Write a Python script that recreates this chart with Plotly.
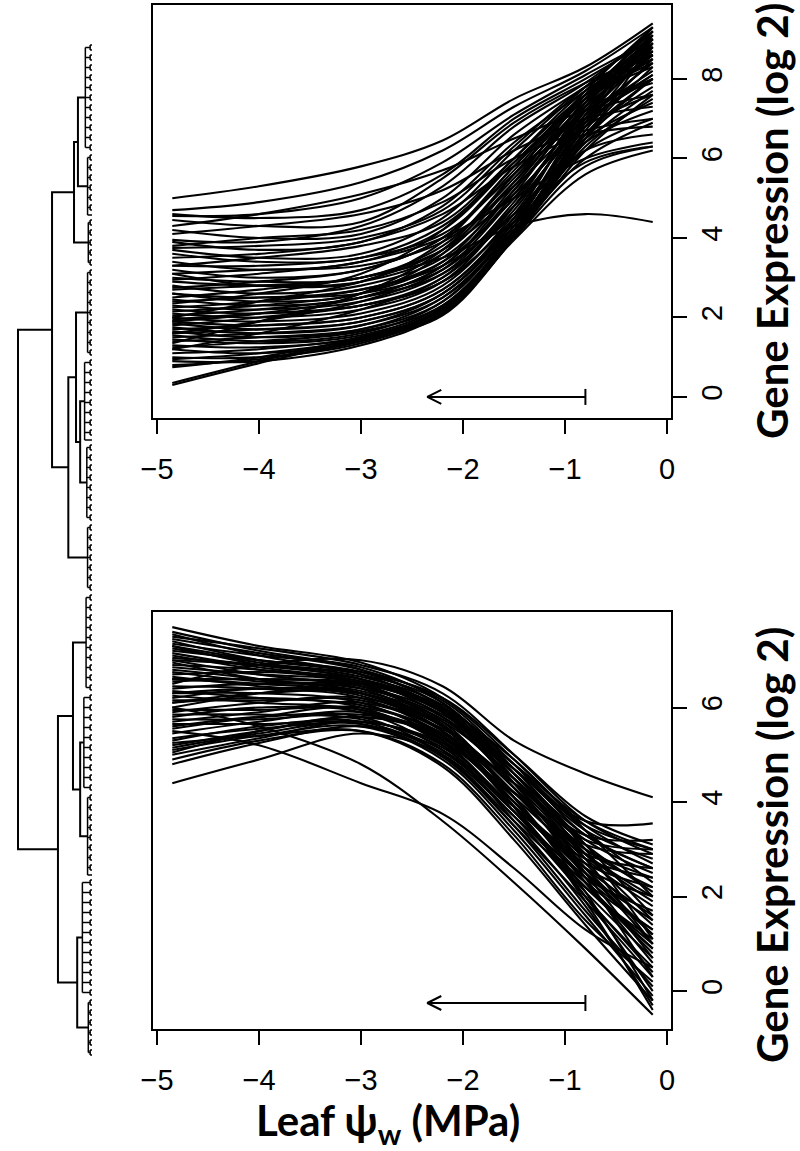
import plotly.graph_objects as go

# ---------------- data ----------------
knots = [-4.85, -4.0, -3.0, -2.2, -1.5, -0.8, -0.14]

up_genes = [
    [5.0, 5.3, 5.8, 6.45, 7.5, 8.3, 9.4],
    [4.7, 4.9, 5.4, 6.2, 7.3, 8.2, 9.3],
    [4.55, 4.6, 5.0, 5.9, 7.1, 8.1, 9.0],
    [4.45, 4.3, 4.4, 5.5, 6.9, 7.9, 8.6],
    [4.3, 4.6, 5.1, 5.7, 6.5, 7.2, 7.6],
    [4.2, 4.0, 4.1, 5.0, 6.6, 7.8, 8.8],
    [4.1, 4.3, 4.6, 5.2, 6.2, 7.0, 7.3],
    [3.9, 3.7, 3.9, 4.8, 6.4, 7.7, 8.9],
    [3.8, 4.0, 4.2, 4.9, 6.0, 6.7, 7.0],
    [3.7, 3.5, 3.6, 4.5, 6.2, 7.8, 9.2],
    [3.6, 3.4, 3.5, 4.3, 5.9, 7.5, 8.4],
    [3.5, 3.6, 3.9, 4.6, 5.8, 6.6, 6.8],
    [3.4, 3.2, 3.4, 4.2, 5.9, 7.6, 9.0],
    [3.3, 3.3, 3.5, 4.1, 5.6, 7.2, 8.0],
    [3.2, 3.0, 3.2, 4.0, 5.7, 7.7, 9.3],
    [3.1, 3.2, 3.3, 3.9, 5.3, 7.0, 8.2],
    [3.0, 2.9, 3.0, 3.8, 5.5, 7.4, 8.7],
    [2.95, 3.1, 3.4, 4.0, 5.0, 6.0, 6.4],
    [2.9, 2.8, 2.9, 3.6, 5.4, 7.6, 9.1],
    [2.8, 2.6, 2.8, 3.5, 5.2, 7.3, 8.5],
    [2.7, 2.8, 3.0, 3.7, 5.1, 6.8, 7.6],
    [2.6, 2.5, 2.7, 3.4, 5.0, 7.2, 8.8],
    [2.5, 2.7, 3.0, 3.5, 4.3, 4.6, 4.4],
    [2.45, 2.3, 2.5, 3.3, 5.1, 7.5, 9.2],
    [2.4, 2.5, 2.6, 3.2, 4.8, 6.9, 8.0],
    [2.3, 2.2, 2.4, 3.1, 4.9, 7.3, 9.0],
    [2.25, 2.4, 2.7, 3.3, 4.6, 6.2, 6.6],
    [2.2, 2.1, 2.3, 3.0, 4.7, 7.1, 8.6],
    [2.1, 2.0, 2.2, 2.9, 4.8, 7.4, 9.3],
    [2.05, 2.2, 2.5, 3.1, 4.6, 6.5, 7.4],
    [2.0, 1.9, 2.1, 2.8, 4.6, 7.2, 8.9],
    [1.95, 2.1, 2.3, 2.9, 4.5, 6.6, 7.8],
    [1.9, 1.8, 2.0, 2.7, 4.5, 7.3, 9.1],
    [1.85, 1.7, 1.9, 2.6, 4.4, 6.9, 8.4],
    [1.8, 2.0, 2.3, 2.9, 4.4, 5.9, 6.3],
    [1.75, 1.6, 1.8, 2.6, 4.4, 7.1, 9.0],
    [1.7, 1.8, 2.0, 2.7, 4.4, 6.8, 8.1],
    [1.65, 1.5, 1.7, 2.5, 4.3, 7.0, 8.7],
    [1.6, 1.7, 1.9, 2.6, 4.3, 6.4, 7.2],
    [1.55, 1.4, 1.6, 2.4, 4.3, 7.0, 9.2],
    [1.5, 1.6, 1.8, 2.5, 4.2, 6.6, 8.0],
    [1.45, 1.35, 1.55, 2.3, 4.2, 6.8, 8.8],
    [1.4, 1.5, 1.7, 2.4, 4.2, 6.2, 7.0],
    [1.3, 1.25, 1.5, 2.25, 4.15, 6.7, 8.5],
    [1.25, 1.4, 1.65, 2.3, 4.1, 6.4, 7.7],
    [1.2, 1.1, 1.4, 2.2, 4.15, 6.9, 9.1],
    [1.1, 1.2, 1.5, 2.2, 4.1, 6.0, 6.9],
    [1.0, 1.0, 1.35, 2.15, 4.1, 6.6, 8.3],
    [0.95, 1.1, 1.45, 2.2, 4.05, 6.3, 7.5],
    [0.9, 0.9, 1.3, 2.1, 4.0, 6.5, 8.9],
    [0.8, 0.95, 1.4, 2.1, 4.0, 5.8, 6.3],
    [0.75, 1.0, 1.5, 2.2, 4.1, 6.5, 8.0],
    [0.3, 0.85, 1.45, 2.05, 4.0, 6.2, 7.6],
    [0.35, 0.9, 1.5, 2.1, 3.95, 5.6, 6.2],
    [4.6, 4.5, 4.7, 5.6, 7.0, 8.0, 9.0],
    [3.95, 3.9, 4.3, 5.3, 6.8, 7.9, 9.2],
    [2.35, 2.6, 3.1, 4.2, 6.0, 7.7, 8.6],
    [1.35, 1.9, 2.6, 3.7, 5.6, 7.5, 8.8],
    [2.15, 2.3, 2.6, 3.4, 5.3, 7.4, 8.9],
    [1.9, 2.1, 2.5, 3.3, 5.2, 7.3, 8.6],
    [2.6, 2.4, 2.6, 3.6, 5.6, 7.6, 9.0],
    [3.1, 2.8, 2.9, 3.9, 5.8, 7.6, 8.7],
    [1.6, 1.9, 2.4, 3.2, 5.0, 7.0, 8.4],
    [2.75, 2.9, 3.2, 4.0, 5.8, 7.5, 8.3],
    [3.3, 3.5, 3.8, 4.4, 6.0, 7.6, 8.5],
    [1.2, 1.6, 2.2, 3.0, 4.8, 6.9, 8.1],
    [2.0, 2.4, 2.9, 3.7, 5.4, 7.2, 7.9],
    [3.75, 3.8, 4.0, 4.7, 6.3, 7.8, 8.6],
]

down_genes = [
    [7.7, 7.3, 6.95, 6.2, 4.9, 3.4, 2.0],
    [7.6, 7.2, 6.8, 6.0, 4.5, 2.8, 1.0],
    [7.5, 7.25, 6.9, 6.3, 5.0, 3.6, 2.9],
    [7.4, 7.0, 6.7, 5.9, 4.3, 2.4, 0.3],
    [7.35, 7.1, 6.85, 6.1, 4.7, 3.1, 1.6],
    [7.3, 6.9, 6.6, 5.8, 4.4, 2.9, 1.9],
    [7.2, 7.0, 6.75, 6.2, 5.0, 3.7, 3.1],
    [7.1, 6.8, 6.5, 5.7, 4.1, 2.1, -0.2],
    [7.05, 6.9, 6.6, 5.9, 4.6, 3.2, 2.5],
    [7.0, 6.7, 6.4, 5.6, 4.2, 2.6, 1.2],
    [6.9, 6.8, 6.55, 5.9, 4.8, 3.6, 3.0],
    [6.8, 6.6, 6.3, 5.5, 4.0, 2.3, 0.6],
    [6.7, 6.75, 6.6, 6.0, 4.9, 3.5, 2.7],
    [6.6, 6.5, 6.3, 5.6, 4.3, 2.7, 1.4],
    [6.5, 6.9, 7.0, 6.45, 5.3, 4.6, 4.1],
    [6.45, 6.4, 6.2, 5.4, 3.9, 2.0, 0.0],
    [6.4, 6.5, 6.4, 5.8, 4.6, 3.3, 2.6],
    [6.3, 6.3, 6.1, 5.3, 3.8, 2.2, 0.9],
    [6.2, 6.4, 6.3, 5.7, 4.5, 3.0, 2.2],
    [6.1, 6.2, 6.0, 5.2, 3.6, 1.8, -0.3],
    [6.0, 6.3, 6.5, 6.0, 4.7, 3.6, 3.55],
    [6.0, 5.6, 4.8, 3.6, 2.3, 0.9, -0.5],
    [5.9, 6.1, 6.2, 5.6, 4.3, 2.8, 1.8],
    [5.8, 6.0, 5.9, 5.1, 3.7, 2.0, 0.4],
    [5.7, 5.9, 6.1, 5.5, 4.2, 3.0, 2.4],
    [5.6, 5.8, 5.8, 5.0, 3.5, 1.7, 0.1],
    [5.5, 5.2, 4.4, 3.75, 2.6, 1.3, 0.5],
    [5.45, 5.7, 5.9, 5.3, 4.0, 2.5, 1.5],
    [5.3, 5.6, 5.7, 5.0, 3.6, 2.2, 1.0],
    [5.2, 5.5, 5.8, 5.4, 4.1, 2.9, 2.6],
    [5.1, 5.4, 5.6, 4.9, 3.4, 1.6, -0.1],
    [5.0, 5.35, 5.7, 5.2, 3.9, 2.6, 2.0],
    [4.9, 5.3, 5.5, 4.8, 3.3, 1.5, 0.2],
    [4.8, 5.25, 5.6, 5.1, 3.8, 2.4, 1.7],
    [4.4, 4.9, 5.45, 5.0, 3.7, 2.3, 1.3],
    [7.55, 7.1, 6.7, 5.95, 4.6, 3.0, 1.1],
    [7.25, 6.95, 6.65, 6.05, 4.8, 3.4, 2.3],
    [6.95, 6.6, 6.35, 5.75, 4.5, 3.1, 2.1],
    [6.75, 6.55, 6.45, 5.85, 4.7, 3.4, 2.8],
    [6.55, 6.6, 6.45, 5.65, 4.1, 2.3, 0.8],
    [6.35, 6.2, 6.05, 5.45, 4.2, 2.9, 2.0],
    [6.25, 6.1, 5.95, 5.35, 4.0, 2.6, 1.6],
    [6.15, 6.15, 6.15, 5.55, 4.4, 3.2, 3.0],
    [5.95, 5.95, 5.95, 5.25, 3.8, 2.1, 0.7],
    [5.85, 5.85, 5.75, 5.15, 3.9, 2.7, 2.2],
    [5.75, 5.75, 5.85, 5.45, 4.4, 3.3, 3.2],
    [5.65, 5.65, 5.65, 4.95, 3.5, 1.9, 0.3],
    [5.35, 5.55, 5.65, 5.05, 3.9, 2.8, 2.4],
    [5.15, 5.45, 5.7, 5.25, 4.2, 3.1, 2.9],
    [5.05, 5.5, 5.8, 5.35, 4.0, 2.5, 1.2],
    [7.45, 7.15, 6.8, 6.15, 4.8, 3.3, 2.6],
    [7.15, 6.85, 6.55, 5.95, 4.7, 3.5, 3.0],
    [6.85, 6.7, 6.5, 5.6, 3.9, 1.9, -0.4],
    [6.65, 6.45, 6.25, 5.5, 4.0, 2.4, 1.3],
    [5.25, 5.4, 5.5, 4.75, 3.2, 1.4, -0.2],
    [6.6, 6.6, 6.5, 5.9, 4.4, 2.6, 1.0],
    [7.0, 6.9, 6.7, 6.1, 4.6, 2.9, 1.5],
    [6.1, 6.3, 6.3, 5.6, 4.1, 2.3, 0.9],
    [5.55, 5.8, 6.0, 5.4, 3.9, 2.2, 1.1],
    [7.3, 7.0, 6.75, 6.0, 4.4, 2.5, 0.7],
    [6.3, 6.4, 6.3, 5.5, 3.9, 2.0, 0.5],
]

x_ticks = [-5, -4, -3, -2, -1, 0]
top_y_ticks = [0, 2, 4, 6, 8]
bottom_y_ticks = [0, 2, 4, 6]

x_range = [-5.039, 0.039]
top_y_range = [-0.53, 9.86]
bottom_y_range = [-0.80, 8.02]

# arrows (direction of increasing stress)
arrow_tail = -0.8
arrow_head = -2.35
top_arrow_y = 0.0
bottom_arrow_y = -0.25

# dendrogram: leaf groups (top to bottom) and merges (left, right, height)
group_sizes = [22, 13, 10, 18, 17, 16, 14, 20, 20, 17, 24, 12]
group_heights = [0.09, 0.06, 0.05, 0.06, 0.10, 0.07, 0.06, 0.08, 0.11, 0.06, 0.13, 0.05]
pair_height = 0.025
merges = [
    (0, 1, 0.19),     # 12
    (12, 2, 0.243),   # 13
    (4, 5, 0.16),     # 14
    (3, 14, 0.216),   # 15
    (15, 6, 0.32),    # 16
    (13, 16, 0.54),   # 17
    (8, 9, 0.16),     # 18
    (7, 18, 0.257),   # 19
    (10, 11, 0.20),   # 20
    (19, 20, 0.46),   # 21
    (17, 21, 1.00),   # 22 root
]

# ---------------- layout geometry (pixels) ----------------
W, H = 800, 1151
box_left, box_right = 153, 671
top_box = (5, 418)
bot_box = (612, 1029)

def ydom(b):
    return [1 - b[1] / H, 1 - b[0] / H]

fig = go.Figure()

def curves_trace(rows, xa, ya):
    xs, ys = [], []
    for r in rows:
        xs += knots + [None]
        ys += r + [None]
    return go.Scatter(x=xs, y=ys, mode="lines", xaxis=xa, yaxis=ya,
                      line=dict(color="black", width=2.1, shape="spline", smoothing=1.0),
                      hoverinfo="skip", showlegend=False)

fig.add_trace(curves_trace(up_genes, "x", "y"))
fig.add_trace(curves_trace(down_genes, "x2", "y2"))

px_per_x = (box_right - box_left) / (x_range[1] - x_range[0])

def arrow_trace(yv, box, yr, xa, ya):
    px_per_y = (box[1] - box[0]) / (yr[1] - yr[0])
    hl, hw, bh = 14 / px_per_x, 7 / px_per_y, 8 / px_per_y
    xs = [arrow_tail, arrow_head, None,
          arrow_head + hl, arrow_head, arrow_head + hl, None,
          arrow_tail, arrow_tail]
    ys = [yv, yv, None,
          yv + hw, yv, yv - hw, None,
          yv - bh, yv + bh]
    return go.Scatter(x=xs, y=ys, mode="lines", xaxis=xa, yaxis=ya,
                      line=dict(color="black", width=2), hoverinfo="skip", showlegend=False)

fig.add_trace(arrow_trace(top_arrow_y, top_box, top_y_range, "x", "y"))
fig.add_trace(arrow_trace(bottom_arrow_y, bot_box, bottom_y_range, "x2", "y2"))

# dendrogram layout
node_y, node_h = [], []
leaf = 0
fx, fy = [], []   # fine (leaf-level) segments
dx, dy = [], []   # main branches
for n, gh in zip(group_sizes, group_heights):
    idx = list(range(leaf, leaf + n))
    leaf += n
    sub_y = []
    for k in range(0, n, 2):
        pair = idx[k:k + 2]
        if len(pair) == 2:
            for i in pair:
                fx += [0, pair_height, None]
                fy += [i, i, None]
            fx += [pair_height, pair_height, None]
            fy += [pair[0], pair[1], None]
            py = (pair[0] + pair[1]) / 2
            fx += [pair_height, gh, None]
            fy += [py, py, None]
        else:
            py = pair[0]
            fx += [0, gh, None]
            fy += [py, py, None]
        sub_y.append(py)
    fx += [gh, gh, None]
    fy += [sub_y[0], sub_y[-1], None]
    node_y.append((sub_y[0] + sub_y[-1]) / 2)
    node_h.append(gh)
for a, b, h in merges:
    ya_, yb_ = node_y[a], node_y[b]
    dx += [node_h[a], h, h, node_h[b], None]
    dy += [ya_, ya_, yb_, yb_, None]
    node_y.append((ya_ + yb_) / 2)
    node_h.append(h)

fig.add_trace(go.Scatter(x=fx, y=fy, mode="lines", xaxis="x3", yaxis="y3",
                         line=dict(color="black", width=1.5), hoverinfo="skip", showlegend=False))
fig.add_trace(go.Scatter(x=dx, y=dy, mode="lines", xaxis="x3", yaxis="y3",
                         line=dict(color="black", width=2), hoverinfo="skip", showlegend=False))

n_leaves = sum(group_sizes)
leaf_top_px, leaf_bot_px = 45, 1055
ppl = (leaf_bot_px - leaf_top_px) / (n_leaves - 1)
root_px, tip_px = 18, 92
pph = tip_px - root_px
dendro_w = 100

tick_font = dict(family="Liberation Sans, Arial", size=29, color="black")
common_x = dict(range=x_range, tickvals=x_ticks, ticks="outside", ticklen=14, tickwidth=2,
                tickcolor="black", showline=True, linewidth=2, linecolor="black", mirror=True,
                showgrid=False, zeroline=False, tickfont=tick_font, ticklabelstandoff=10,
                domain=[box_left / W, box_right / W])
common_y = dict(side="right", ticks="outside", ticklen=14, tickwidth=2, tickcolor="black",
                showline=True, linewidth=2, linecolor="black", mirror=True,
                showgrid=False, zeroline=False, tickfont=tick_font, tickangle=-90,
                ticklabelstandoff=0)

fig.update_layout(
    width=W, height=H, margin=dict(l=0, r=0, t=0, b=0, autoexpand=False),
    paper_bgcolor="white", plot_bgcolor="white", showlegend=False,
    xaxis=dict(anchor="y", **common_x),
    xaxis2=dict(anchor="y2", **common_x),
    yaxis=dict(anchor="x", range=top_y_range, tickvals=top_y_ticks, domain=ydom(top_box), **common_y),
    yaxis2=dict(anchor="x2", range=bottom_y_range, tickvals=bottom_y_ticks, domain=ydom(bot_box), **common_y),
    xaxis3=dict(anchor="y3", domain=[0, dendro_w / W], visible=False,
                range=[tip_px / pph, (tip_px - dendro_w) / pph]),
    yaxis3=dict(anchor="x3", domain=[0, 1], visible=False,
                range=[(H - leaf_top_px) / ppl, -leaf_top_px / ppl]),
)

title_font = dict(family="Lato, Noto Sans", size=42, color="black", weight="bold")
fig.add_annotation(text="Gene Expression (log 2)", xref="paper", yref="paper",
                   x=772 / W, y=1 - 221 / H, textangle=-90, showarrow=False,
                   xanchor="center", yanchor="middle", font=title_font)
fig.add_annotation(text="Gene Expression (log 2)", xref="paper", yref="paper",
                   x=772 / W, y=1 - 845 / H, textangle=-90, showarrow=False,
                   xanchor="center", yanchor="middle", font=title_font)
fig.add_annotation(text="Leaf ψ<sub>w</sub> (MPa)", xref="paper", yref="paper",
                   x=388 / W, y=1 - 1123 / H, showarrow=False,
                   xanchor="center", yanchor="middle", font=title_font)

fig.write_html("out.html", config={"displayModeBar": False},
               post_script="document.body.style.margin='0';")
